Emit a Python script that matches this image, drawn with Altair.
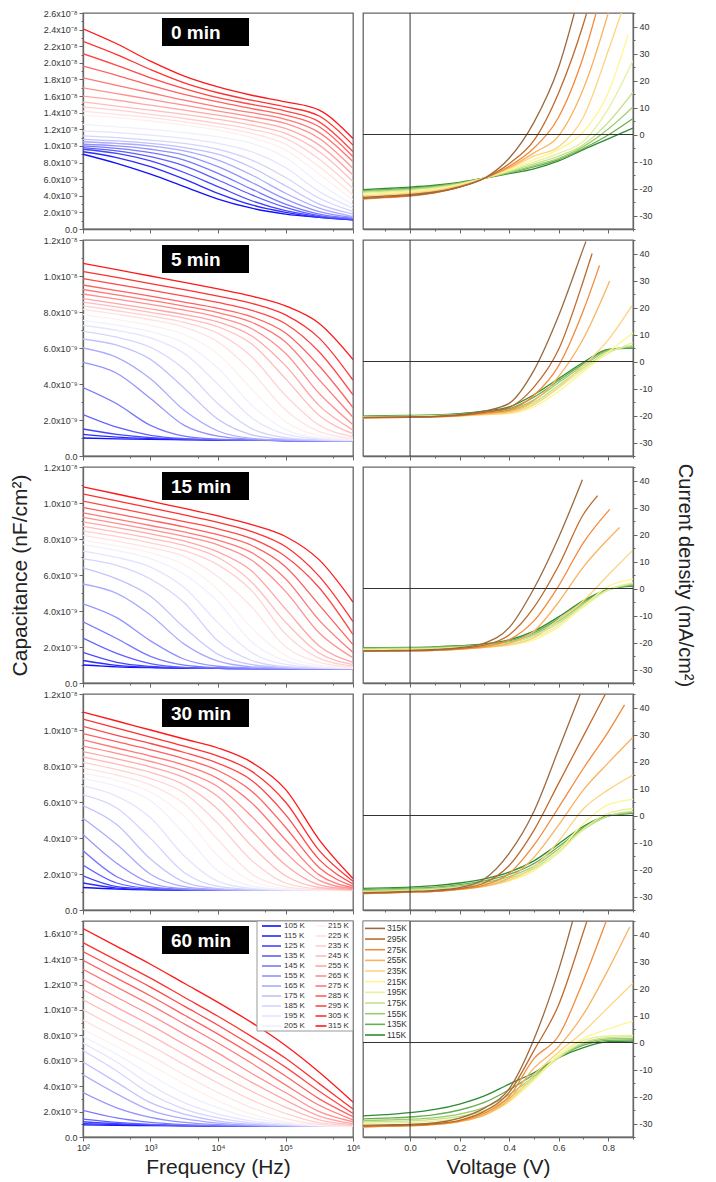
import altair as alt
import pandas as pd

FONT = "Liberation Sans"

# ---------------- capacitance data (units of 1e-9) ----------------
FREQ_HZ = [100, 316, 1000, 3162, 10000, 31623, 100000, 316228, 1000000]
TEMPS_CAP = [105, 115, 125, 135, 145, 155, 165, 175, 185, 195, 205,
             215, 225, 235, 245, 255, 265, 275, 285, 295, 305, 315]
CAP_COLORS = ["#1010ff", "#2a2aff", "#4444ff", "#5e5eff", "#7878ff", "#9292ff",
              "#aaaaff", "#c0c0ff", "#d4d4ff", "#e4e4ff", "#f0f0ff",
              "#fff0f0", "#ffe2e2", "#ffd0d0", "#ffbcbc", "#ffa6a6", "#ff9090",
              "#ff7878", "#ff6060", "#ff4848", "#ff3030", "#ff1818"]

CAP_0MIN = [
    [9.0, 7.9, 6.6, 5.1, 3.6, 2.5, 1.8, 1.4, 1.1],
    [9.3, 8.6, 7.5, 6.0, 4.3, 2.9, 2.0, 1.4, 1.1],
    [9.6, 9.1, 8.2, 6.8, 5.1, 3.4, 2.2, 1.5, 1.15],
    [9.8, 9.4, 8.7, 7.6, 5.9, 4.1, 2.6, 1.6, 1.2],
    [10.0, 9.7, 9.2, 8.3, 6.7, 4.8, 3.0, 1.8, 1.3],
    [10.2, 10.0, 9.6, 8.9, 7.5, 5.6, 3.6, 2.1, 1.4],
    [10.5, 10.3, 10.0, 9.4, 8.3, 6.5, 4.3, 2.5, 1.5],
    [10.8, 10.6, 10.3, 9.8, 9.0, 7.4, 5.2, 3.0, 1.8],
    [11.2, 11.0, 10.7, 10.3, 9.6, 8.3, 6.2, 3.7, 2.1],
    [11.8, 11.6, 11.3, 10.9, 10.3, 9.3, 7.4, 4.5, 2.5],
    [12.6, 12.3, 12.0, 11.6, 11.1, 10.3, 8.6, 5.5, 2.9],
    [13.7, 13.4, 13.0, 12.5, 11.9, 11.0, 9.5, 6.6, 3.5],
    [14.2, 13.8, 13.4, 12.9, 12.3, 11.5, 10.2, 7.5, 4.1],
    [14.7, 14.3, 13.8, 13.3, 12.7, 12.0, 10.9, 8.4, 4.9],
    [15.3, 14.8, 14.3, 13.8, 13.2, 12.5, 11.5, 9.3, 5.7],
    [16.0, 15.5, 14.9, 14.3, 13.7, 13.0, 12.1, 10.1, 6.5],
    [17.0, 16.3, 15.6, 14.9, 14.2, 13.5, 12.7, 10.9, 7.3],
    [18.2, 17.3, 16.4, 15.5, 14.7, 14.0, 13.2, 11.6, 8.1],
    [19.6, 18.5, 17.3, 16.2, 15.3, 14.5, 13.7, 12.3, 8.7],
    [21.1, 19.7, 18.2, 16.9, 15.8, 15.0, 14.2, 12.9, 9.3],
    [22.6, 21.0, 19.2, 17.6, 16.4, 15.5, 14.7, 13.6, 10.1],
    [24.1, 22.3, 20.2, 18.4, 17.1, 16.1, 15.3, 14.3, 10.9],
]
CAP_5MIN = [
    [1.0, 0.95, 0.92, 0.9, 0.88, 0.87, 0.86, 0.85, 0.85],
    [1.2, 1.05, 0.97, 0.92, 0.89, 0.87, 0.86, 0.85, 0.85],
    [1.5, 1.2, 1.02, 0.94, 0.9, 0.88, 0.86, 0.85, 0.85],
    [2.3, 1.6, 1.15, 0.97, 0.91, 0.88, 0.86, 0.85, 0.85],
    [3.8, 2.9, 1.7, 1.1, 0.93, 0.89, 0.87, 0.86, 0.85],
    [5.2, 4.6, 3.2, 1.7, 1.1, 0.93, 0.88, 0.86, 0.85],
    [6.0, 5.48, 4.29, 2.54, 1.39, 0.98, 0.88, 0.86, 0.85],
    [6.5, 6.16, 5.37, 3.77, 2.04, 1.18, 0.93, 0.87, 0.85],
    [6.92, 6.6, 6.04, 4.82, 2.9, 1.52, 1.02, 0.89, 0.86],
    [7.25, 6.98, 6.56, 5.7, 3.98, 2.12, 1.21, 0.94, 0.87],
    [7.54, 7.27, 6.91, 6.27, 4.87, 2.82, 1.47, 1.0, 0.89],
    [7.85, 7.58, 7.25, 6.75, 5.67, 3.72, 1.91, 1.13, 0.92],
    [8.15, 7.88, 7.57, 7.16, 6.34, 4.68, 2.55, 1.35, 0.97],
    [8.35, 8.07, 7.78, 7.42, 6.81, 5.51, 3.37, 1.71, 1.07],
    [8.55, 8.28, 7.98, 7.66, 7.18, 6.22, 4.3, 2.25, 1.24],
    [8.75, 8.47, 8.17, 7.86, 7.45, 6.67, 5.02, 2.8, 1.44],
    [9.0, 8.71, 8.42, 8.1, 7.71, 7.07, 5.71, 3.47, 1.74],
    [9.25, 8.95, 8.65, 8.33, 7.96, 7.43, 6.33, 4.23, 2.15],
    [9.5, 9.19, 8.88, 8.55, 8.2, 7.73, 6.83, 5.0, 2.69],
    [9.85, 9.53, 9.21, 8.88, 8.53, 8.09, 7.35, 5.78, 3.39],
    [10.25, 9.92, 9.58, 9.24, 8.88, 8.48, 7.84, 6.55, 4.21],
    [10.7, 10.35, 10.0, 9.65, 9.28, 8.88, 8.34, 7.36, 5.36],
]
CAP_15MIN = [
    [1.0, 0.9, 0.85, 0.82, 0.81, 0.8, 0.8, 0.8, 0.8],
    [1.25, 0.98, 0.87, 0.83, 0.81, 0.8, 0.8, 0.8, 0.8],
    [1.7, 1.15, 0.92, 0.84, 0.81, 0.8, 0.8, 0.8, 0.8],
    [2.5, 1.65, 1.08, 0.87, 0.82, 0.8, 0.8, 0.8, 0.8],
    [3.4, 2.47, 1.48, 0.99, 0.85, 0.81, 0.8, 0.8, 0.8],
    [4.4, 3.63, 2.34, 1.32, 0.93, 0.83, 0.8, 0.8, 0.8],
    [5.5, 4.98, 3.78, 2.16, 1.21, 0.9, 0.83, 0.8, 0.8],
    [6.4, 5.79, 4.82, 3.08, 1.6, 1.02, 0.86, 0.81, 0.8],
    [6.9, 6.54, 5.78, 4.46, 2.33, 1.25, 0.91, 0.83, 0.8],
    [7.33, 6.98, 6.44, 5.3, 3.34, 1.69, 1.03, 0.86, 0.81],
    [7.69, 7.36, 6.91, 6.04, 4.5, 2.28, 1.23, 0.9, 0.82],
    [7.94, 7.62, 7.23, 6.57, 5.18, 3.05, 1.53, 0.98, 0.84],
    [8.2, 7.88, 7.52, 7.03, 5.9, 4.22, 2.02, 1.15, 0.88],
    [8.45, 8.14, 7.79, 7.35, 6.56, 5.13, 2.73, 1.37, 0.94],
    [8.7, 8.38, 8.04, 7.64, 6.97, 5.6, 3.38, 1.66, 1.02],
    [8.95, 8.63, 8.28, 7.89, 7.28, 6.22, 4.12, 2.06, 1.14],
    [9.2, 8.87, 8.52, 8.15, 7.67, 6.82, 5.09, 2.78, 1.4],
    [9.45, 9.11, 8.75, 8.39, 7.94, 7.24, 5.79, 3.48, 1.7],
    [9.75, 9.4, 9.04, 8.67, 8.24, 7.64, 6.46, 4.33, 2.13],
    [10.1, 9.73, 9.36, 8.97, 8.56, 8.02, 7.03, 5.29, 2.69],
    [10.5, 10.12, 9.73, 9.34, 8.92, 8.41, 7.58, 5.92, 3.41],
    [10.9, 10.5, 10.1, 9.7, 9.28, 8.8, 8.14, 6.84, 4.5],
]
CAP_30MIN = [
    [1.25, 1.16, 1.12, 1.11, 1.1, 1.1, 1.1, 1.1, 1.1],
    [1.5, 1.22, 1.14, 1.11, 1.1, 1.1, 1.1, 1.1, 1.1],
    [1.9, 1.3, 1.16, 1.12, 1.1, 1.1, 1.1, 1.1, 1.1],
    [2.5, 1.5, 1.2, 1.13, 1.11, 1.1, 1.1, 1.1, 1.1],
    [3.3, 1.85, 1.28, 1.14, 1.11, 1.1, 1.1, 1.1, 1.1],
    [4.2, 2.6, 1.5, 1.18, 1.12, 1.1, 1.1, 1.1, 1.1],
    [5.1, 3.65, 1.99, 1.3, 1.14, 1.1, 1.1, 1.1, 1.1],
    [5.8, 4.75, 2.83, 1.55, 1.19, 1.11, 1.1, 1.1, 1.1],
    [6.4, 5.67, 3.98, 2.08, 1.31, 1.14, 1.1, 1.1, 1.1],
    [6.9, 6.33, 5.13, 3.0, 1.59, 1.2, 1.12, 1.1, 1.1],
    [7.3, 6.88, 6.08, 4.24, 2.17, 1.33, 1.14, 1.11, 1.1],
    [7.6, 7.2, 6.55, 5.2, 3.0, 1.6, 1.2, 1.12, 1.1],
    [7.9, 7.5, 6.95, 5.9, 3.9, 2.0, 1.3, 1.13, 1.11],
    [8.2, 7.8, 7.3, 6.5, 4.8, 2.75, 1.5, 1.17, 1.11],
    [8.5, 8.1, 7.65, 6.95, 5.6, 3.55, 1.9, 1.25, 1.12],
    [8.8, 8.4, 7.95, 7.35, 6.3, 4.4, 2.5, 1.4, 1.15],
    [9.1, 8.7, 8.25, 7.7, 6.85, 5.2, 3.2, 1.65, 1.18],
    [9.45, 9.0, 8.55, 8.05, 7.3, 5.95, 3.9, 1.95, 1.24],
    [9.8, 9.35, 8.9, 8.4, 7.75, 6.6, 4.6, 2.35, 1.32],
    [10.2, 9.7, 9.25, 8.75, 8.15, 7.2, 5.3, 2.8, 1.45],
    [10.6, 10.1, 9.6, 9.1, 8.55, 7.7, 6.0, 3.3, 1.6],
    [11.0, 10.5, 10.0, 9.5, 9.0, 8.2, 6.7, 3.9, 1.75],
]
CAP_60MIN = [
    [0.95, 0.92, 0.9, 0.88, 0.86, 0.85, 0.85, 0.84, 0.84],
    [1.05, 0.98, 0.93, 0.89, 0.87, 0.86, 0.85, 0.84, 0.84],
    [1.2, 1.05, 0.96, 0.9, 0.87, 0.86, 0.85, 0.84, 0.84],
    [1.4, 1.15, 1.0, 0.92, 0.88, 0.86, 0.85, 0.84, 0.84],
    [2.1, 1.5, 1.15, 0.98, 0.9, 0.87, 0.85, 0.84, 0.84],
    [3.5, 2.3, 1.55, 1.15, 0.97, 0.9, 0.86, 0.84, 0.84],
    [4.9, 3.4, 2.1, 1.45, 1.1, 0.93, 0.87, 0.85, 0.84],
    [5.9, 4.3, 2.7, 1.8, 1.25, 1.0, 0.9, 0.85, 0.84],
    [6.8, 5.2, 3.4, 2.2, 1.5, 1.1, 0.93, 0.86, 0.84],
    [7.4, 5.9, 4.1, 2.7, 1.8, 1.25, 1.0, 0.88, 0.85],
    [7.9, 6.5, 4.9, 3.4, 2.3, 1.5, 1.1, 0.9, 0.85],
    [8.5, 7.1, 5.7, 4.2, 2.85, 1.8, 1.18, 0.93, 0.86],
    [9.2, 7.8, 6.4, 4.9, 3.5, 2.3, 1.45, 1.0, 0.88],
    [10.0, 8.6, 7.2, 5.7, 4.25, 2.9, 1.85, 1.12, 0.92],
    [10.8, 9.4, 8.0, 6.5, 5.0, 3.6, 2.35, 1.35, 0.97],
    [11.6, 10.2, 8.8, 7.3, 5.8, 4.3, 2.9, 1.65, 1.05],
    [12.4, 11.0, 9.6, 8.1, 6.6, 5.0, 3.5, 2.0, 1.2],
    [13.2, 11.8, 10.4, 8.9, 7.4, 5.8, 4.1, 2.5, 1.35],
    [13.9, 12.5, 11.1, 9.6, 8.1, 6.5, 4.8, 3.0, 1.6],
    [14.6, 13.2, 11.8, 10.3, 8.8, 7.2, 5.5, 3.6, 1.85],
    [15.3, 13.9, 12.5, 11.0, 9.5, 7.9, 6.2, 4.2, 2.2],
    [16.4, 15.0, 13.6, 12.1, 10.6, 9.0, 7.2, 5.1, 2.75],
]
CAP_DATA = [CAP_0MIN, CAP_5MIN, CAP_15MIN, CAP_30MIN, CAP_60MIN]
CAP_YMAX = [26, 12, 12, 12, 17]
PANEL_LABELS = ["0 min", "5 min", "15 min", "30 min", "60 min"]
FREQ_TICKS = [100, 500, 1000, 5000, 10000, 50000, 100000, 500000, 1000000]

# ---------------- J-V data ----------------
VOLT = [-0.19, -0.1, 0.0, 0.1, 0.2, 0.3, 0.4, 0.5, 0.6, 0.7, 0.8, 0.9]
TEMPS_JV = [115, 135, 155, 175, 195, 215, 235, 255, 275, 295, 315]
JV_COLORS = ["#2e8b34", "#6aae50", "#9ccb6c", "#c6e08a", "#e6f0a0", "#fff590",
             "#fdd47e", "#fbb25e", "#f28a3c", "#bf6a2a", "#9a6a3f"]

JV_0MIN = [
    [-20.4, -20.0, -19.5, -18.8, -17.7, -16.2, -14.5, -12.7, -9.8, -5.6, -1.6, 2.4],
    [-20.8, -20.4, -19.9, -19.1, -17.9, -16.2, -14.2, -12.0, -9.3, -5.2, -0.2, 5.9],
    [-21.1, -20.7, -20.2, -19.4, -18.1, -16.2, -14.0, -11.5, -8.8, -4.5, 2.0, 10.2],
    [-21.4, -21.0, -20.5, -19.7, -18.3, -16.2, -13.7, -10.9, -8.0, -3.8, 4.5, 15.7],
    [-21.8, -21.4, -20.9, -20.0, -18.5, -16.2, -13.4, -10.2, -7.0, -2.5, 9.5, 27.4],
    [-22.2, -21.8, -21.3, -20.3, -18.7, -16.2, -13.0, -9.3, -5.5, 1.0, 15.5],
    [-22.7, -22.3, -21.7, -20.7, -18.9, -16.2, -12.6, -8.0, -4.5, 6.5, 31.0, 58.0],
    [-23.3, -22.8, -22.2, -21.1, -19.2, -16.2, -12.3, -6.8, -0.5, 17.0, 45.0, 80.0],
    [-23.9, -23.4, -22.8, -21.6, -19.5, -16.2, -11.8, -5.0, 6.5, 29.0, 62.0],
    [-23.7, -23.2, -22.6, -21.5, -19.5, -16.2, -10.8, -2.2, 15.5, 41.0, 75.0],
    [-23.3, -22.8, -22.3, -21.3, -19.4, -16.2, -8.8, 4.5, 25.0, 58.0],
]
JV_0MIN_END = [None, None, None, None, None, [0.88, 36.8], None, None, None, None, None]

JV_5MIN = [
    [-20.2, -20.1, -20.0, -19.8, -19.3, -18.4, -16.8, -12.3, -6.3, -0.3, 4.5, 5.0],
    [-20.3, -20.2, -20.1, -19.9, -19.5, -18.7, -17.5, -13.2, -7.0, -0.8, 4.3, 5.2],
    [-20.4, -20.3, -20.2, -20.0, -19.7, -19.0, -18.2, -14.2, -7.8, -1.5, 4.0, 5.5],
    [-20.5, -20.4, -20.3, -20.1, -19.8, -19.2, -18.7, -15.2, -8.8, -2.3, 3.5, 6.0],
    [-20.6, -20.5, -20.4, -20.2, -19.9, -19.4, -19.0, -16.0, -9.8, -3.0, 3.0, 7.0],
    [-20.8, -20.7, -20.6, -20.4, -20.1, -19.7, -19.3, -16.8, -11.0, -3.8, 3.5, 10.6],
    [-20.9, -20.8, -20.7, -20.5, -20.2, -19.7, -19.0, -16.0, -9.5, -1.5, 8.0],
    [-20.9, -20.8, -20.7, -20.5, -20.1, -19.4, -18.5, -14.5, -5.5, 8.5],
    [-20.9, -20.8, -20.7, -20.5, -20.0, -19.2, -18.0, -12.5, -1.5, 19.0],
    [-20.8, -20.7, -20.6, -20.4, -19.9, -18.8, -17.0, -9.5, 4.5, 30.0],
    [-20.7, -20.6, -20.5, -20.3, -19.7, -18.3, -15.5, -3.3, 17.0, 42.0],
]
JV_5MIN_END = [None, None, None, None, None, None, [0.895, 20.6], [0.806, 29.8],
               [0.765, 35.6], [0.735, 40.0], [0.71, 44.5]]

JV_15MIN = [
    [-22.0, -21.9, -21.8, -21.6, -21.2, -20.5, -19.0, -15.8, -10.5, -4.5, -0.3, 0.9],
    [-22.1, -22.0, -21.9, -21.7, -21.3, -20.7, -19.4, -16.4, -11.2, -5.0, -0.4, 1.2],
    [-22.3, -22.2, -22.1, -21.9, -21.5, -20.9, -19.8, -17.0, -12.0, -5.6, -0.5, 1.5],
    [-22.5, -22.4, -22.3, -22.1, -21.7, -21.1, -20.2, -17.6, -12.8, -6.2, -0.6, 1.8],
    [-22.7, -22.6, -22.5, -22.3, -21.9, -21.4, -20.6, -18.3, -13.6, -6.8, -0.5, 2.2],
    [-23.0, -22.9, -22.8, -22.6, -22.2, -21.7, -21.0, -19.0, -14.2, -6.5, 0.8, 3.5],
    [-23.2, -23.1, -23.0, -22.8, -22.4, -21.8, -20.9, -18.2, -11.5, -4.5, 5.0],
    [-23.3, -23.2, -23.1, -22.9, -22.5, -21.8, -20.3, -15.8, -5.0, 8.0],
    [-23.3, -23.2, -23.1, -22.9, -22.4, -21.5, -19.0, -12.0, 1.0, 17.0],
    [-23.2, -23.1, -23.0, -22.8, -22.2, -21.0, -17.2, -7.0, 8.5, 27.5],
    [-23.1, -23.0, -22.9, -22.6, -21.9, -20.2, -14.5, 0.0, 19.0],
]
JV_15MIN_END = [None, None, None, None, None, None, [0.895, 13.8], [0.846, 22.6],
                [0.806, 29.3], [0.757, 34.4], [0.696, 40.3]]

JV_30MIN = [
    [-27.0, -26.8, -26.5, -26.0, -25.0, -23.5, -21.0, -16.8, -10.5, -4.0, 0.0, 0.8],
    [-27.4, -27.2, -26.9, -26.5, -25.6, -24.2, -21.8, -17.8, -11.5, -4.6, -0.1, 1.0],
    [-27.8, -27.6, -27.3, -26.9, -26.1, -24.8, -22.6, -18.8, -12.4, -5.0, -0.2, 1.2],
    [-28.1, -27.9, -27.6, -27.2, -26.5, -25.3, -23.3, -19.6, -13.2, -5.3, -0.1, 1.5],
    [-28.4, -28.2, -27.9, -27.5, -26.8, -25.7, -23.9, -20.3, -13.8, -5.0, 0.8, 2.5],
    [-28.6, -28.4, -28.1, -27.8, -27.1, -26.0, -24.2, -20.5, -13.0, -3.0, 4.0, 6.0],
    [-28.8, -28.6, -28.3, -28.0, -27.3, -26.2, -24.0, -19.0, -9.5, 2.5, 9.5, 15.0],
    [-28.9, -28.7, -28.4, -28.1, -27.4, -26.2, -23.2, -15.5, -3.5, 9.5, 19.5, 29.0],
    [-28.9, -28.7, -28.4, -28.1, -27.3, -25.8, -21.5, -11.0, 3.0, 17.5, 31.0],
    [-28.8, -28.6, -28.3, -28.0, -27.1, -25.0, -18.5, -5.5, 12.0, 29.5, 47.0],
    [-28.6, -28.4, -28.1, -27.7, -26.7, -23.5, -14.0, 1.5, 24.5, 48.0],
]
JV_30MIN_END = [None, None, None, None, None, None, None, None, [0.866, 41.0], None, None]

JV_60MIN = [
    [-27.2, -26.7, -26.0, -24.8, -22.8, -19.8, -15.4, -11.2, -5.6, -1.9, 0.3, 0.5],
    [-28.3, -28.0, -27.6, -26.7, -25.0, -22.2, -17.5, -11.8, -5.5, -1.0, 0.8, 1.0],
    [-28.9, -28.7, -28.4, -27.8, -26.5, -24.0, -19.3, -12.6, -5.5, -0.5, 1.3, 1.5],
    [-29.4, -29.2, -29.0, -28.5, -27.4, -25.2, -20.6, -13.3, -5.6, 0.0, 1.8, 2.2],
    [-30.0, -29.8, -29.6, -29.1, -28.1, -26.0, -21.5, -13.8, -5.2, 0.8, 2.4, 2.6],
    [-30.6, -30.4, -30.2, -29.7, -28.7, -26.6, -22.0, -14.0, -4.5, 1.5, 5.0, 7.9],
    [-31.2, -31.0, -30.8, -30.3, -29.3, -27.0, -21.8, -12.0, -3.5, 4.0, 13.0, 22.0],
    [-31.3, -31.1, -30.9, -30.4, -29.3, -26.8, -21.0, -9.5, -1.5, 10.5, 27.0],
    [-31.2, -31.0, -30.8, -30.3, -29.1, -26.2, -20.0, -6.0, 2.5, 23.0, 47.0],
    [-31.0, -30.8, -30.6, -30.1, -28.8, -25.5, -18.5, -3.0, 14.0, 41.0, 70.0],
    [-30.7, -30.5, -30.3, -29.8, -28.0, -24.3, -17.2, 1.2, 27.0, 60.0],
]
JV_60MIN_END = [None, None, None, None, None, None, None, [0.887, 42.8], None, None, None]

JV_DATA = [JV_0MIN, JV_5MIN, JV_15MIN, JV_30MIN, JV_60MIN]
JV_ENDS = [JV_0MIN_END, JV_5MIN_END, JV_15MIN_END, JV_30MIN_END, JV_60MIN_END]
V_TICKS = [-0.1, 0.0, 0.1, 0.2, 0.3, 0.4, 0.5, 0.6, 0.7, 0.8, 0.9]
J_TICKS = [-35, -30, -25, -20, -15, -10, -5, 0, 5, 10, 15, 20, 25, 30, 35, 40, 45]

W, H = 270, 216


def cap_frame(data):
    rows = []
    for T, col, vals in zip(TEMPS_CAP, CAP_COLORS, data):
        for f, v in zip(FREQ_HZ, vals):
            rows.append({"T": T, "f": f, "C": v, "color": col})
    return pd.DataFrame(rows)


def jv_frame(data, ends):
    rows = []
    for T, col, vals, end in zip(TEMPS_JV, JV_COLORS, data, ends):
        for v, j in zip(VOLT, vals):
            rows.append({"T": T, "V": v, "J": j, "color": col})
        if end:
            rows.append({"T": T, "V": end[0], "J": end[1], "color": col})
    return pd.DataFrame(rows)


def cond(test, a, b):
    return {"condition": {"test": test, "value": a}, "value": b}


F_MAJOR = "datum.value == 100 || datum.value == 1000 || datum.value == 10000 || datum.value == 100000 || datum.value == 1000000"
F_LABEL = ("datum.value == 100 ? '10²' : datum.value == 1000 ? '10³' : datum.value == 10000 ? '10⁴' : "
           "datum.value == 100000 ? '10⁵' : datum.value == 1000000 ? '10⁶' : ''")
C_LABEL = ("datum.value % 2 != 0 ? '' : datum.value == 0 ? '0.0' : datum.value < 10 ? "
           "format(datum.value, '.1f') + 'x10⁻⁹' : format(datum.value / 10, '.1f') + 'x10⁻⁸'")
V_MAJOR = "abs(round(datum.value * 10)) % 2 == 0"
V_LABEL = "abs(round(datum.value * 10)) % 2 == 0 ? format(datum.value, '.1f') : ''"
J_LABEL = "datum.value % 10 == 0 ? '' + datum.value : ''"


def left_panel(i):
    last = i == 4
    ymax = CAP_YMAX[i]
    xkw = dict(values=FREQ_TICKS, labels=last, labelExpr=F_LABEL, labelFlush=False,
               labelOverlap=False, tickSize=cond(F_MAJOR, 4, 2), titlePadding=4)
    xkw["title"] = "Frequency (Hz)" if last else None
    ykw = dict(values=list(range(0, ymax + 1)), labelExpr=C_LABEL, labelOverlap=False,
               tickSize=cond("datum.value % 2 == 0", 4, 2), titlePadding=13)
    ykw["title"] = "Capacitance (nF/cm²)" if i == 2 else None
    xs = alt.Scale(type="log", domain=[100, 1000000], nice=False)
    ys = alt.Scale(domain=[0, ymax], nice=False, zero=False)
    lines = alt.Chart(cap_frame(CAP_DATA[i])).mark_line(
        interpolate="monotone", strokeWidth=1.3, clip=True
    ).encode(
        x=alt.X("f:Q", scale=xs, axis=alt.Axis(**xkw)),
        y=alt.Y("C:Q", scale=ys, axis=alt.Axis(**ykw)),
        color=alt.Color("color:N", scale=None),
        detail="T:N",
    )
    lab = pd.DataFrame({"label": [PANEL_LABELS[i]]})
    box = alt.Chart(lab).mark_rect(color="black").encode(
        x=alt.value(79), x2=alt.value(166), y=alt.value(5), y2=alt.value(33))
    txt = alt.Chart(lab).mark_text(color="white", font=FONT, fontSize=19, fontWeight="bold",
                                   align="left", baseline="middle").encode(
        x=alt.value(88), y=alt.value(19.5), text="label:N")
    layers = [lines, box, txt]
    if last:
        leg = []
        for k, (T, col) in enumerate(zip(TEMPS_CAP, CAP_COLORS)):
            c, r = divmod(k, 11)
            leg.append({"x1": 179 if c == 0 else 232.5, "x2": 198 if c == 0 else 243.5,
                        "tx": 201 if c == 0 else 245, "y": 5 + 10 * r,
                        "text": f"{T} K", "color": col})
        legdf = pd.DataFrame(leg)
        frame = alt.Chart(lab).mark_rect(fill="white", stroke="#999", strokeWidth=1).encode(
            x=alt.value(174), x2=alt.value(270), y=alt.value(0), y2=alt.value(110))
        lrule = alt.Chart(legdf).mark_rule(strokeWidth=1.6).encode(
            x=alt.X("x1:Q", scale=None, axis=None), x2="x2:Q",
            y=alt.Y("y:Q", scale=None, axis=None),
            color=alt.Color("color:N", scale=None))
        ltext = alt.Chart(legdf).mark_text(font=FONT, fontSize=8, align="left",
                                           baseline="middle", color="#333").encode(
            x=alt.X("tx:Q", scale=None, axis=None),
            y=alt.Y("y:Q", scale=None, axis=None), text="text:N")
        layers += [frame, lrule, ltext]
    return alt.layer(*layers).properties(width=W, height=H)


def right_panel(i):
    last = i == 4
    xkw = dict(values=V_TICKS, labels=last, labelExpr=V_LABEL, labelFlush=False,
               labelOverlap=False, tickSize=cond(V_MAJOR, 4, 2), titlePadding=4)
    xkw["title"] = "Voltage (V)" if last else None
    ykw = dict(orient="right", values=J_TICKS, labelExpr=J_LABEL, labelOverlap=False,
               tickSize=cond("datum.value % 10 == 0", 4, 2), titlePadding=22,
               titleFontSize=20)
    ykw["title"] = "Current density (mA/cm²)" if i == 2 else None
    xs = alt.Scale(domain=[-0.19, 0.9], nice=False, zero=False)
    ys = alt.Scale(domain=[-35, 45], nice=False, zero=False)
    lines = alt.Chart(jv_frame(JV_DATA[i], JV_ENDS[i])).mark_line(
        interpolate="monotone", strokeWidth=1.3, clip=True
    ).encode(
        x=alt.X("V:Q", scale=xs, axis=alt.Axis(**xkw)),
        y=alt.Y("J:Q", scale=ys, axis=alt.Axis(**ykw)),
        color=alt.Color("color:N", scale=None),
        detail="T:N",
        order="V:Q",
    )
    zero = pd.DataFrame({"V": [0.0], "J": [0.0]})
    vr = alt.Chart(zero).mark_rule(color="#333", strokeWidth=1).encode(
        x=alt.X("V:Q", scale=xs, axis=alt.Axis(**xkw)))
    hr = alt.Chart(zero).mark_rule(color="#333", strokeWidth=1).encode(
        y=alt.Y("J:Q", scale=ys, axis=alt.Axis(**ykw)))
    layers = [lines]
    if last:
        leg = []
        for k, (T, col) in enumerate(zip(TEMPS_JV[::-1], JV_COLORS[::-1])):
            leg.append({"x1": 2, "x2": 22, "tx": 24, "y": 7.4 + 10.66 * k,
                        "text": f"{T}K", "color": col})
        legdf = pd.DataFrame(leg)
        frame = alt.Chart(zero).mark_rect(fill="white", stroke="#999", strokeWidth=1).encode(
            x=alt.value(0), x2=alt.value(47), y=alt.value(0), y2=alt.value(121.5))
        lrule = alt.Chart(legdf).mark_rule(strokeWidth=1.6).encode(
            x=alt.X("x1:Q", scale=None, axis=None), x2="x2:Q",
            y=alt.Y("y:Q", scale=None, axis=None),
            color=alt.Color("color:N", scale=None))
        ltext = alt.Chart(legdf).mark_text(font=FONT, fontSize=8.5, align="left",
                                           baseline="middle", color="#333").encode(
            x=alt.X("tx:Q", scale=None, axis=None),
            y=alt.Y("y:Q", scale=None, axis=None), text="text:N")
        layers += [frame, lrule, ltext]
    layers += [vr, hr]
    return alt.layer(*layers).properties(width=W, height=H)


panels = []
for i in range(5):
    panels.append(left_panel(i))
    panels.append(right_panel(i))

chart = alt.concat(*panels, columns=2, spacing={"row": 11, "column": 10}, bounds="flush").properties(
    padding={"left": 0, "top": 0, "right": 6, "bottom": 0}
).configure_view(
    stroke="#666", strokeWidth=1.3
).configure_axis(
    labelFont=FONT, titleFont=FONT, labelFontSize=9, titleFontSize=21,
    titleFontWeight="normal", labelColor="#333", titleColor="#222",
    domainColor="#666", domainWidth=1.3, tickColor="#666", tickWidth=1, grid=False,
    labelPadding=2,
)

chart.save("out.html", embed_options={"renderer": "svg", "actions": False})
